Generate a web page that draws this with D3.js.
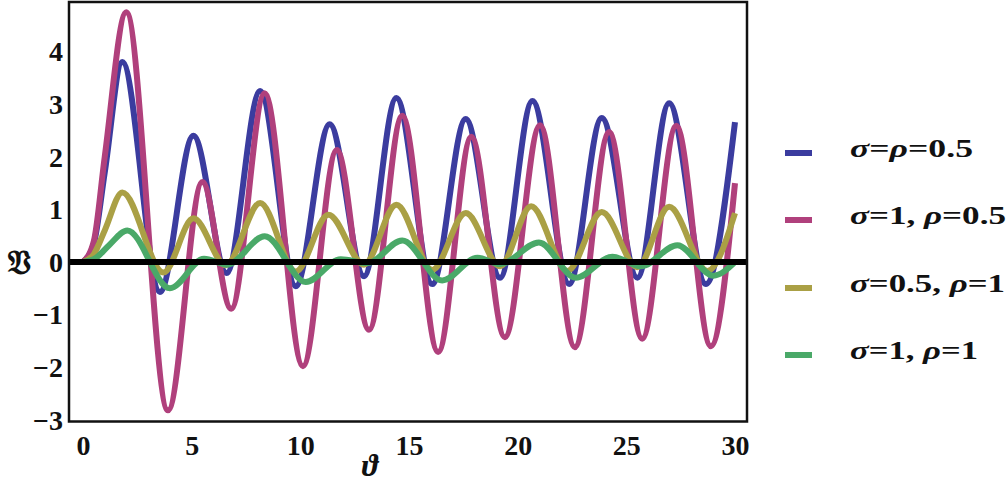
<!DOCTYPE html>
<html><head><meta charset="utf-8">
<script src="https://cdn.jsdelivr.net/npm/d3@7"></script>
<style>body{margin:0;background:#fff}svg{display:block}</style>
</head><body>
<svg id="c" width="1008" height="486"></svg>
<script>
// ---- data ----
const xTicks = [0, 5, 10, 15, 20, 25, 30];
const yTicks = [-3, -2, -1, 0, 1, 2, 3, 4];

const blueX = [0, 0.5, 1.0, 1.81, 3.54, 5.08, 6.61, 8.15, 9.79, 11.35, 12.93, 14.42, 16.07, 17.61, 19.19, 20.68, 22.37, 23.87, 25.51, 26.97, 28.66, 30];
const blueY = [0, 0.35, 1.7, 3.8, -0.57, 2.40, -0.21, 3.25, -0.46, 2.62, -0.27, 3.12, -0.42, 2.72, -0.30, 3.06, -0.42, 2.74, -0.30, 3.02, -0.42, 2.66];

const magX = [0, 0.5, 1.0, 1.99, 3.91, 5.49, 6.82, 8.36, 10.12, 11.68, 13.16, 14.69, 16.34, 17.87, 19.41, 21.03, 22.63, 24.21, 25.73, 27.30, 28.89, 30];
const magY = [0, 0.4, 2.0, 4.75, -2.82, 1.52, -0.89, 3.21, -1.98, 2.13, -1.29, 2.78, -1.71, 2.38, -1.43, 2.60, -1.62, 2.47, -1.46, 2.59, -1.60, 1.5];

const oliveX = [0, 0.5, 1.0, 1.81, 3.7, 5.08, 6.57, 8.15, 9.79, 11.29, 12.93, 14.42, 16.07, 17.61, 19.19, 20.62, 22.29, 23.87, 25.51, 26.97, 28.73, 30];
const oliveY = [0, 0.15, 0.6, 1.32, -0.2, 0.83, -0.06, 1.12, -0.18, 0.90, -0.05, 1.09, -0.15, 0.93, -0.08, 1.06, -0.17, 0.95, -0.1, 1.05, -0.17, 0.93];

const greenX = [0, 0.6, 1.2, 2.04, 4.0, 5.57, 6.64, 8.36, 10.25, 11.86, 13.1, 14.69, 16.53, 18.15, 19.2, 20.98, 22.67, 24.36, 25.67, 27.35, 29.0, 30];
const greenY = [0, 0.08, 0.32, 0.6, -0.5, 0.06, -0.05, 0.49, -0.38, 0.05, -0.02, 0.41, -0.35, 0.08, -0.04, 0.37, -0.30, 0.10, -0.08, 0.32, -0.26, 0.0];

const seriesNames = [
  [["σ", true], ["=", false], ["ρ", true], ["=0.5", false]],
  [["σ", true], ["=1, ", false], ["ρ", true], ["=0.5", false]],
  [["σ", true], ["=0.5, ", false], ["ρ", true], ["=1", false]],
  [["σ", true], ["=1, ", false], ["ρ", true], ["=1", false]]
];
const seriesColors = ["#3b3c9f", "#b0407c", "#aaa045", "#4aa968"];

// ---- chart ----
const svg = d3.select("#c");
const frame = {left: 69, right: 747, top: 2, bottom: 421.5};
const x = d3.scaleLinear().domain([0, 30]).range([83, 735]);
const y = d3.scaleLinear().domain([0, 4]).range([262, 51.6]);

const series = [
  {xs: blueX, ys: blueY},
  {xs: magX, ys: magY},
  {xs: oliveX, ys: oliveY},
  {xs: greenX, ys: greenY}
];

const line = d3.line().x(d => x(d[0])).y(d => y(d[1])).curve(d3.curveMonotoneX);

const plot = svg.append("g");
series.forEach((s, i) => {
  const pts = s.xs.map((v, j) => [v, s.ys[j]]);
  plot.append("path").datum(pts).attr("d", line)
    .attr("fill", "none").attr("stroke", seriesColors[i])
    .attr("stroke-width", 6).attr("stroke-linejoin", "round").attr("stroke-linecap", "butt");
});

// zero line
svg.append("line").attr("x1", frame.left).attr("x2", frame.right)
  .attr("y1", y(0)).attr("y2", y(0)).attr("stroke", "#000").attr("stroke-width", 6);

// frame
svg.append("rect").attr("x", frame.left).attr("y", frame.top)
  .attr("width", frame.right - frame.left).attr("height", frame.bottom - frame.top)
  .attr("fill", "none").attr("stroke", "#111").attr("stroke-width", 2.5);

const tickFont = "'Liberation Serif','Times New Roman',serif";

// x axis labels (no tick marks)
const xAxis = d3.axisBottom(x).tickValues(xTicks).tickSize(0).tickPadding(0);
const gx = svg.append("g").attr("transform", `translate(0,${frame.bottom})`).call(xAxis);
gx.select(".domain").remove();
gx.selectAll("text").attr("font-family", tickFont).attr("font-weight", "bold")
  .attr("font-size", 28).attr("fill", "#111").attr("dy", "0").attr("y", 33);

// y axis labels
const yAxis = d3.axisLeft(y).tickValues(yTicks).tickSize(0).tickPadding(0)
  .tickFormat(d => d < 0 ? "\u2212" + Math.abs(d) : String(d));
const gy = svg.append("g").attr("transform", `translate(63,0)`).call(yAxis);
gy.select(".domain").remove();
gy.selectAll("text").attr("font-family", tickFont).attr("font-weight", "bold")
  .attr("font-size", 28).attr("fill", "#111").attr("dy", "0.33em").attr("x", 0);

// axis titles
svg.append("text").attr("x", 19).attr("y", 274).attr("text-anchor", "middle")
  .attr("font-family", "'DejaVu Serif','DejaVu Sans',serif").attr("font-weight", "bold")
  .attr("font-size", 34).attr("fill", "#111").text("\u{1D519}");
svg.append("text").attr("x", 370).attr("y", 476).attr("text-anchor", "middle")
  .attr("font-family", tickFont).attr("font-weight", "bold").attr("font-style", "italic")
  .attr("font-size", 31).attr("fill", "#111").text("ϑ");

// legend
const legY = [153, 220, 288, 355];
const legW = [123, 156, 155, 128];
const leg = svg.append("g");
seriesNames.forEach((parts, i) => {
  leg.append("line").attr("x1", 785).attr("x2", 812).attr("y1", legY[i]).attr("y2", legY[i])
    .attr("stroke", seriesColors[i]).attr("stroke-width", 6);
  const t = leg.append("text").attr("x", 850).attr("y", legY[i] + 4)
    .attr("font-family", tickFont).attr("font-weight", "bold").attr("font-size", 25).attr("fill", "#111")
    .attr("textLength", legW[i]).attr("lengthAdjust", "spacingAndGlyphs");
  parts.forEach(p => {
    t.append("tspan").attr("font-style", p[1] ? "italic" : "normal").text(p[0]);
  });
});
</script>
</body></html>
